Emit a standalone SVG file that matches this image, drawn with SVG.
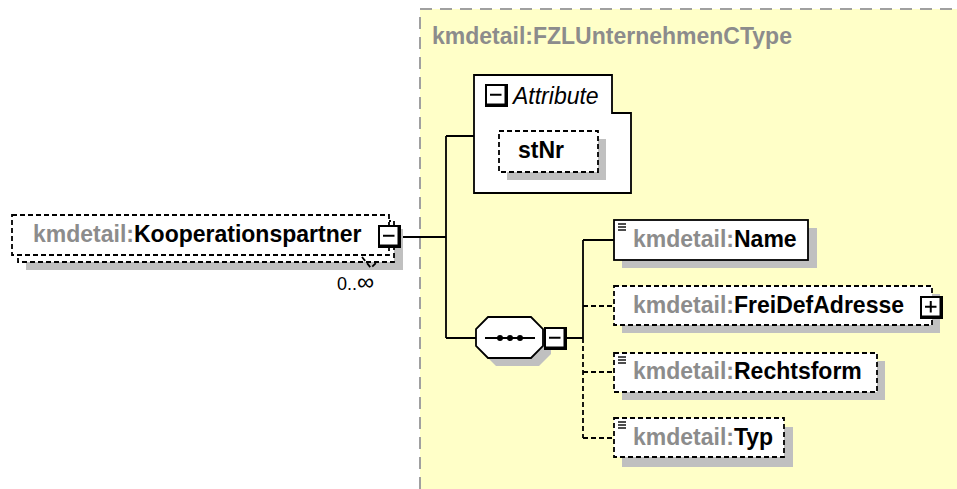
<svg xmlns="http://www.w3.org/2000/svg" width="957" height="489" viewBox="0 0 957 489">
<style>
.t{font-family:"Liberation Sans",Arial,sans-serif;font-size:23px;font-weight:bold}
.pre{fill:#8c8c8c}
.nm{fill:#000}
.box{fill:#fff;stroke:#000;stroke-width:1.8}
.dbox{fill:#fff;stroke:#000;stroke-width:1.8;stroke-dasharray:5,3}
.sh{fill:#c0c0c0}
.ln{fill:none;stroke:#000;stroke-width:1.8}
.dl{fill:none;stroke:#000;stroke-width:1.8;stroke-dasharray:5,3}
</style>
<defs>
<g id="minus">
<rect x="0" y="0" width="23" height="23" fill="#000"/>
<rect x="2" y="2" width="17.5" height="17.5" fill="#fff"/>
<line x1="5" y1="10.75" x2="16.5" y2="10.75" stroke="#000" stroke-width="2"/>
</g>
<g id="plus">
<rect x="0" y="0" width="23" height="23" fill="#000"/>
<rect x="2" y="2" width="17.5" height="17.5" fill="#fff"/>
<line x1="5" y1="10.75" x2="16.5" y2="10.75" stroke="#000" stroke-width="2"/>
<line x1="10.75" y1="5" x2="10.75" y2="16.5" stroke="#000" stroke-width="2"/>
</g>
<g id="simple">
<line x1="0" y1="0" x2="8" y2="0" stroke="#000" stroke-width="1.4"/>
<line x1="0" y1="3" x2="8" y2="3" stroke="#000" stroke-width="1.4"/>
<line x1="0" y1="6" x2="8" y2="6" stroke="#000" stroke-width="1.4"/>
</g>
</defs>
<rect x="0" y="0" width="957" height="489" fill="#fff"/>

<g id="complexType">
<rect x="420" y="9" width="560" height="500" fill="#ffffc8" stroke="#a0a0a0" stroke-width="2" stroke-dasharray="12,8"/>
<text class="t pre" x="432" y="44">kmdetail:FZLUnternehmenCType</text>
</g>

<g id="connectors">
<path class="ln" d="M401 237H446M446 136V338M446 136H474M446 338H476M567 338H583M583 240V338M583 240H614"/>
<path class="dl" d="M583 338V438M583 306H614M583 372H614M583 438H614"/>
</g>

<g id="Kooperationspartner">
<rect class="sh" x="26" y="229" width="377" height="41"/>
<rect class="dbox" x="18" y="221" width="376" height="41"/>
<rect class="dbox" x="12" y="215" width="377" height="40"/>
<text class="t" x="33" y="242"><tspan class="pre">kmdetail:</tspan><tspan class="nm">Kooperationspartner</tspan></text>
<use href="#minus" x="378" y="225"/>
<path class="dl" d="M362 257L371 268L377 262"/>
<text x="337" y="290" font-family="Liberation Sans,Arial,sans-serif" font-size="18" fill="#000">0..<tspan font-size="24">∞</tspan></text>
</g>

<g id="Attribute">
<polygon class="box" points="474,75 612,75 612,113 631,113 631,193 474,193"/>
<use href="#minus" x="485" y="84"/>
<text x="513" y="104" font-family="Liberation Sans,Arial,sans-serif" font-size="23" font-style="italic" fill="#000">Attribute</text>
</g>

<g id="stNr">
<rect class="sh" x="507" y="139" width="99" height="41"/>
<rect class="dbox" x="499" y="131" width="99" height="41"/>
<text class="t nm" x="518" y="158">stNr</text>
</g>

<g id="sequence">
<polygon class="sh" points="496,325 539,325 551,337 551,354 539,366 496,366 484,354 484,337"/>
<polygon class="box" points="488,317 531,317 543,329 543,346 531,358 488,358 476,346 476,329"/>
<line class="ln" x1="485" y1="338" x2="535" y2="338"/>
<circle cx="500" cy="338" r="3"/>
<circle cx="510" cy="338" r="3"/>
<circle cx="520" cy="338" r="3"/>
<use href="#minus" x="544" y="327"/>
</g>

<g id="Name">
<rect class="sh" x="622" y="228" width="195" height="40"/>
<rect class="box" x="614" y="220" width="194" height="40"/>
<use href="#simple" x="618" y="224"/>
<text class="t" x="633" y="247"><tspan class="pre">kmdetail:</tspan><tspan class="nm">Name</tspan></text>
</g>

<g id="FreiDefAdresse">
<rect class="sh" x="622" y="294" width="318" height="39"/>
<rect class="dbox" x="614" y="286" width="318" height="39"/>
<text class="t" x="633" y="313"><tspan class="pre">kmdetail:</tspan><tspan class="nm">FreiDefAdresse</tspan></text>
<use href="#plus" x="920" y="296"/>
</g>

<g id="Rechtsform">
<rect class="sh" x="622" y="361" width="263" height="39"/>
<rect class="dbox" x="614" y="353" width="263" height="39"/>
<use href="#simple" x="618" y="357"/>
<text class="t" x="633" y="379"><tspan class="pre">kmdetail:</tspan><tspan class="nm">Rechtsform</tspan></text>
</g>

<g id="Typ">
<rect class="sh" x="622" y="427" width="171" height="40"/>
<rect class="dbox" x="614" y="418" width="170" height="39"/>
<use href="#simple" x="618" y="422"/>
<text class="t" x="633" y="445"><tspan class="pre">kmdetail:</tspan><tspan class="nm">Typ</tspan></text>
</g>
</svg>
